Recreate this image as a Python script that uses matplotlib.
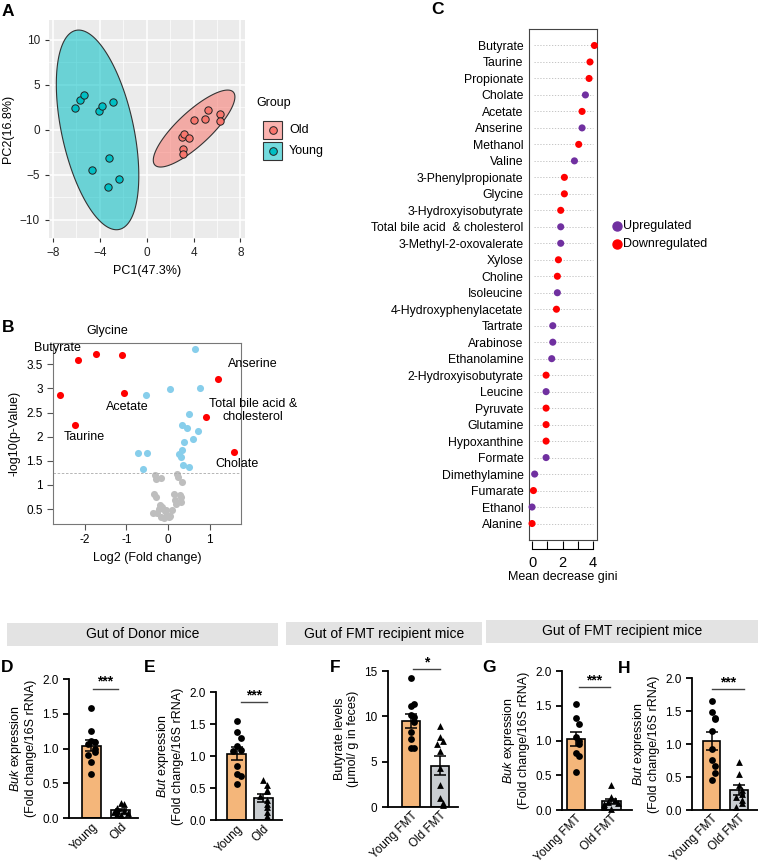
import numpy as np
import matplotlib.pyplot as plt
from matplotlib.patches import Rectangle, Polygon
from matplotlib.lines import Line2D

plt.rcParams['font.family'] = ['Liberation Sans', 'DejaVu Sans']
plt.rcParams['mathtext.fontset'] = 'custom'
plt.rcParams['mathtext.rm'] = 'Liberation Sans'
plt.rcParams['mathtext.it'] = 'Liberation Sans:italic'

# ---------------- data ----------------
# A: PCA scores
young_pc1 = [-6.1, -5.7, -5.4, -4.1, -3.8, -2.9, -3.2, -4.7, -3.3, -2.4]
young_pc2 = [2.4, 3.3, 3.9, 2.1, 2.7, 3.1, -3.1, -4.4, -6.3, -5.4]
old_pc1 = [3.0, 3.2, 3.6, 3.1, 3.1, 4.0, 5.0, 5.2, 6.3, 6.3]
old_pc2 = [-0.8, -0.4, -0.9, -2.1, -2.7, 1.1, 1.2, 2.2, 1.8, 1.0]
# ellipse: centre, two conjugate semi-axes
young_ell = [(-4.2, 0.0), (-1.85, 11.05), (3.0, 0.85)]
old_ell = [(4.05, 0.15), (3.35, 4.05), (0.97, -1.36)]

# B: volcano
red_fc = [-2.6, -2.15, -1.74, -1.11, -1.06, -2.23, 1.21, 0.92, 1.59]
red_p = [2.86, 3.58, 3.71, 3.69, 2.90, 2.24, 3.20, 2.40, 1.69]
blue_fc = [0.65, -0.54, 0.04, 0.76, 0.51, 0.34, 0.46, 0.73, 0.60, 0.38, 0.34,
           0.26, 0.30, 0.35, 0.50, -0.72, -0.50, -0.60]
blue_p = [3.81, 2.87, 2.98, 3.01, 2.46, 2.24, 2.17, 2.12, 1.96, 1.89, 1.72,
          1.63, 1.57, 1.42, 1.38, 1.66, 1.66, 1.32]
grey_fc = [-0.32, -0.29, -0.18, -0.33, -0.28, -0.20, -0.14, -0.07, -0.02, 0.02,
           -0.36, -0.26, -0.17, -0.10, -0.22, 0.22, 0.25, 0.34, 0.14, 0.28,
           0.30, 0.17, 0.10, 0.04, -0.05, 0.30, 0.20]
grey_p = [1.21, 1.12, 1.14, 0.81, 0.74, 0.58, 0.55, 0.45, 0.38, 0.33,
          0.41, 0.42, 0.34, 0.31, 0.51, 1.23, 1.17, 1.07, 0.82, 0.80,
          0.74, 0.69, 0.48, 0.36, 0.48, 0.65, 0.60]
volcano_labels = ['Glycine', 'Butyrate', 'Anserine', 'Acetate',
                  'Total bile acid &\ncholesterol', 'Taurine', 'Cholate']
label_fc = [-1.46, -2.65, 2.04, -0.98, 2.04, -2.01, 1.65]
label_p = [4.19, 3.84, 3.50, 2.62, 2.54, 2.00, 1.43]
p_cut = 1.24

# C: random forest importance
metabolites = ['Butyrate', 'Taurine', 'Propionate', 'Cholate', 'Acetate', 'Anserine',
               'Methanol', 'Valine', '3-Phenylpropionate', 'Glycine',
               '3-Hydroxyisobutyrate', 'Total bile acid  & cholesterol',
               '3-Methyl-2-oxovalerate', 'Xylose', 'Choline', 'Isoleucine',
               '4-Hydroxyphenylacetate', 'Tartrate', 'Arabinose', 'Ethanolamine',
               '2-Hydroxyisobutyrate', 'Leucine', 'Pyruvate', 'Glutamine',
               'Hypoxanthine', 'Formate', 'Dimethylamine', 'Fumarate', 'Ethanol',
               'Alanine']
gini = [4.09, 3.80, 3.74, 3.50, 3.28, 3.28, 3.06, 2.78, 2.12, 2.12, 1.88, 1.88,
        1.88, 1.73, 1.66, 1.66, 1.60, 1.36, 1.36, 1.29, 0.92, 0.92, 0.92, 0.92,
        0.92, 0.92, 0.17, 0.09, 0.0, 0.0]
direction = ['D', 'D', 'D', 'U', 'D', 'U', 'D', 'U', 'D', 'D', 'D', 'U', 'U', 'D',
             'D', 'U', 'D', 'U', 'U', 'U', 'D', 'U', 'D', 'D', 'D', 'U', 'U', 'D',
             'U', 'D']

# D-H: bar panels
d_young = [1.58, 1.25, 1.11, 1.09, 1.07, 0.99, 0.95, 0.91, 0.80, 0.64]
d_old = [0.22, 0.20, 0.15, 0.12, 0.10, 0.07, 0.08, 0.05, 0.10, 0.06]
e_young = [1.54, 1.38, 1.28, 1.15, 1.10, 1.08, 0.85, 0.72, 0.68, 0.56]
e_old = [0.63, 0.55, 0.47, 0.45, 0.38, 0.32, 0.25, 0.20, 0.12, 0.07]
f_young = [14.2, 11.1, 11.4, 10.2, 9.9, 9.4, 8.3, 6.5, 6.5, 7.5]
f_old = [8.9, 7.7, 7.3, 7.0, 6.2, 4.3, 2.4, 1.0, 0.4, 0.2]
g_young = [1.53, 1.33, 1.24, 1.05, 1.00, 0.95, 0.82, 0.78, 0.55]
g_old = [0.36, 0.18, 0.15, 0.12, 0.10, 0.08, 0.06, 0.04, 0.02]
h_young = [1.65, 1.49, 1.40, 1.38, 1.20, 0.92, 0.76, 0.66, 0.56, 0.46]
h_old = [0.73, 0.55, 0.38, 0.30, 0.25, 0.20, 0.15, 0.10, 0.05]

# ---------------- figure ----------------
W, H = 758, 863
fig = plt.figure(figsize=(W / 100, H / 100), dpi=100)


def px_axes(l, t, r, b):
    return fig.add_axes([l / W, 1 - b / H, (r - l) / W, (b - t) / H])


def ftext(x, y, s, **kw):
    fig.text(x / W, 1 - y / H, s, **kw)


# panel letters
for letter, (x, y) in {'A': (2, 11), 'B': (2, 327), 'C': (431, 10), 'D': (1, 667),
                       'E': (144, 667), 'F': (330, 667), 'G': (482, 667),
                       'H': (618, 668)}.items():
    ftext(x, y, letter, fontsize=12.5, fontweight='bold', va='center', ha='left')

# ---------------- A ----------------
ax = px_axes(49, 20, 245, 238)
ax.set_facecolor('#EBEBEB')
for s in ax.spines.values():
    s.set_visible(False)
ax.set_xlim(-8.35, 8.4)
ax.set_ylim(-12.0, 12.2)
ax.set_xticks([-8, -4, 0, 4, 8])
ax.set_yticks([-10, -5, 0, 5, 10])
ax.set_xticks([-6, -2, 2, 6], minor=True)
ax.set_yticks([-7.5, -2.5, 2.5, 7.5], minor=True)
ax.grid(True, which='major', color='white', lw=1.1)
ax.grid(True, which='minor', color='white', lw=0.5)
ax.set_axisbelow(True)
ax.tick_params(which='major', length=3, color='#333333', labelsize=8.5, labelcolor='#222222')
ax.tick_params(which='minor', length=0)
t = np.linspace(0, 2 * np.pi, 200)
for ell, col in [(young_ell, '#00BFC4'), (old_ell, '#F8766D')]:
    c, v1, v2 = [np.array(v) for v in ell]
    pts = c + np.outer(np.cos(t), v1) + np.outer(np.sin(t), v2)
    ax.add_patch(Polygon(pts, closed=True, facecolor=col, alpha=0.55, edgecolor='none'))
    ax.add_patch(Polygon(pts, closed=True, facecolor='none', edgecolor='#333333', lw=0.8))
ax.scatter(young_pc1, young_pc2, s=28, color='#00BFC4', edgecolor='#222222', lw=0.7, zorder=3)
ax.scatter(old_pc1, old_pc2, s=28, color='#F8766D', edgecolor='#222222', lw=0.7, zorder=3)
ax.set_xlabel('PC1(47.3%)', fontsize=9)
ax.set_ylabel('PC2(16.8%)', fontsize=9)

# legend A
ftext(256, 103, 'Group', fontsize=9, va='center')
for y, col, lab in [(130, '#F8766D', 'Old'), (151, '#00BFC4', 'Young')]:
    fig.patches.append(Rectangle(((263) / W, 1 - (y + 9) / H), 19 / W, 18 / H,
                                 transform=fig.transFigure, facecolor=col, alpha=0.55,
                                 edgecolor='none'))
    fig.patches.append(Rectangle(((263) / W, 1 - (y + 9) / H), 19 / W, 18 / H,
                                 transform=fig.transFigure, facecolor='none',
                                 edgecolor='#333333', lw=0.8))
    fig.lines.append(Line2D([272.5 / W], [1 - y / H], transform=fig.transFigure,
                            marker='o', ms=5.5, mfc=col, mec='#222222', mew=0.7))
    ftext(289, y, lab, fontsize=9, va='center')

# ---------------- B ----------------
ax = px_axes(53, 343, 241, 524)
ax.set_xlim(-2.76, 1.75)
ax.set_ylim(0.19, 3.94)
for s in ax.spines.values():
    s.set_color('#777777')
    s.set_linewidth(0.8)
ax.scatter(grey_fc, grey_p, s=26, color='#BEBEBE', lw=0, zorder=2)
ax.scatter(blue_fc, blue_p, s=26, color='#87CEEB', lw=0, zorder=2)
ax.scatter(red_fc, red_p, s=26, color='#FF0000', lw=0, zorder=3)
ax.axhline(p_cut, color='#AAAAAA', lw=0.6, ls=(0, (3, 2)))
ax.set_xticks([-2, -1, 0, 1])
ax.set_xticklabels(['-2', '-1', '0', '1'])
ax.set_yticks([0.5, 1, 1.5, 2, 2.5, 3, 3.5])
ax.set_yticklabels(['0.5', '1', '1.5', '2', '2.5', '3', '3.5'])
ax.tick_params(labelsize=8.5, length=4, color='#555555')
ax.set_xlabel('Log2 (Fold change)', fontsize=9)
ax.set_ylabel('-log10(p-Value)', fontsize=9)
for lab, x, y in zip(volcano_labels, label_fc, label_p):
    ax.text(x, y, lab, fontsize=9, ha='center', va='center', clip_on=False,
            linespacing=1.1)

# ---------------- C ----------------
ax = px_axes(529, 29, 597, 540)
n = len(metabolites)
ypos = np.arange(n, 0, -1)
ax.set_xlim(-0.2, 4.26)
ax.set_ylim(0, n + 1)
for y in ypos:
    ax.plot([0.1, 4.0], [y, y], color='#BBBBBB', lw=0.6, ls=(0, (1.5, 2)), zorder=1)
cols = ['#FF0000' if d == 'D' else '#7030A0' for d in direction]
ax.scatter(gini, ypos, s=26, color=cols, lw=0, zorder=3, clip_on=False)
ax.set_yticks(ypos)
ax.set_yticklabels(metabolites, fontsize=8.8)
ax.tick_params(axis='y', length=0, pad=4)
ax.set_xticks([])
for s in ax.spines.values():
    s.set_color('#444444')
    s.set_linewidth(0.8)
ax2 = px_axes(529, 530, 597, 549)
ax2.patch.set_alpha(0)
ax2.set_xlim(-0.2, 4.26)
for k in ['top', 'left', 'right']:
    ax2.spines[k].set_visible(False)
ax2.spines['bottom'].set_bounds(0, 4)
ax2.spines['bottom'].set_linewidth(0.8)
ax2.set_yticks([])
ax2.set_xticks([0, 1, 2, 3, 4])
ax2.set_xticklabels(['0', '', '2', '', '4'])
ax2.tick_params(axis='x', direction='in', length=6, width=0.8, labelsize=10.5, pad=5)
ax2.set_xlabel('Mean decrease gini', fontsize=9, labelpad=1)
for y, col, lab in [(226, '#7030A0', 'Upregulated'), (244, '#FF0000', 'Downregulated')]:
    fig.lines.append(Line2D([617 / W], [1 - y / H], transform=fig.transFigure,
                            marker='o', ms=6.5, mfc=col, mec=col))
    ftext(623, y, lab, fontsize=9, va='center')

# ---------------- header boxes ----------------
for l, t_, r, b, lab in [(7, 623, 278, 646, 'Gut of Donor mice'),
                         (286, 622, 482, 645, 'Gut of FMT recipient mice'),
                         (486, 620, 758, 643, 'Gut of FMT recipient mice')]:
    fig.patches.append(Rectangle((l / W, 1 - b / H), (r - l) / W, (b - t_) / H,
                                 transform=fig.transFigure, facecolor='#E3E3E3',
                                 edgecolor='none'))
    ftext((l + r) / 2, (t_ + b) / 2, lab, fontsize=10, ha='center', va='center')


# ---------------- bar panels ----------------
def swarm(vals, step, tol):
    # spread points of similar height sideways, staying inside the bar
    pattern = [0, 1, -1, 2, -2]
    offs, placed = [], []
    for v in vals:
        k = sum(1 for p in placed if abs(p - v) < tol)
        offs.append(pattern[k % 5] * step)
        placed.append(v)
    return np.array(offs)


def bar_panel(box, xlim, width, young, old, ymax, yticks, yticklabels, ylabel,
              xlabels, sig_y, stars, sig_span):
    ax = px_axes(*box)
    ax.set_xlim(*xlim)
    ax.set_ylim(0, ymax)
    for k in ['top', 'right']:
        ax.spines[k].set_visible(False)
    for k in ['left', 'bottom']:
        ax.spines[k].set_linewidth(1.3)
    for i, (vals, col, mk) in enumerate([(young, '#F4B67A', 'o'), (old, '#C9CDD1', '^')]):
        vals = np.array(vals)
        m = vals.mean()
        se = vals.std(ddof=1) / np.sqrt(len(vals))
        ax.bar(i, m, width=width, color=col, edgecolor='black', lw=1.2, zorder=1)
        ax.errorbar(i, m, yerr=se, color='black', lw=1.1, capsize=4, capthick=1.1, zorder=2)
        offs = swarm(vals, width * 0.19, ymax * 0.05)
        ax.scatter(i + offs, vals, s=24, marker=mk, color='black', lw=0, zorder=3,
                   clip_on=False)
    ax.set_xticks([0, 1])
    ax.set_xticklabels(xlabels, rotation=45, ha='right', rotation_mode='anchor', fontsize=8.5)
    ax.set_yticks(yticks)
    ax.set_yticklabels(yticklabels, fontsize=8.5)
    ax.tick_params(length=4, width=1.3)
    ax.tick_params(axis='x', length=0, pad=2)
    ax.set_ylabel(ylabel, fontsize=9, linespacing=1.05)
    ax.plot(sig_span, [sig_y, sig_y], color='#444444', lw=1.0, clip_on=False)
    ax.text(np.mean(sig_span), sig_y, stars, ha='center', va='bottom', fontsize=10,
            fontweight='bold', clip_on=False)
    return ax


t2 = [0, 0.5, 1, 1.5, 2]
tl2 = ['0.0', '0.5', '1.0', '1.5', '2.0']
buk = '$\\it{Buk}$ expression\n(Fold change/16S rRNA)'
but = '$\\it{But}$ expression\n(Fold change/16S rRNA)'
bar_panel((69, 679, 138, 818), (-0.76, 1.58), 0.64, d_young, d_old, 2, t2, tl2, buk,
          ['Young', 'Old'], 1.86, '***', [0.05, 0.9])
bar_panel((216, 692, 282, 820), (-0.79, 1.70), 0.72, e_young, e_old, 2, t2, tl2, but,
          ['Young', 'Old'], 1.84, '***', [0.15, 1.15])
bar_panel((388, 671, 458, 807), (-0.79, 1.62), 0.62, f_young, f_old, 15, [0, 5, 10, 15],
          ['0', '5', '10', '15'], 'Butyrate levels\n(\u03bcmol/ g in feces)',
          ['Young FMT', 'Old FMT'], 15.2, '*', [0.07, 1.0])
bar_panel((562, 671, 632, 810), (-0.39, 1.58), 0.52, g_young, g_old, 2, t2, tl2, buk,
          ['Young FMT', 'Old FMT'], 1.77, '***', [0.1, 0.95])
bar_panel((692, 678, 758, 810), (-0.71, 1.69), 0.64, h_young, h_old, 2, t2, tl2, but,
          ['Young FMT', 'Old FMT'], 1.83, '***', [0.02, 1.18])

fig.savefig('out.png', dpi=100)
